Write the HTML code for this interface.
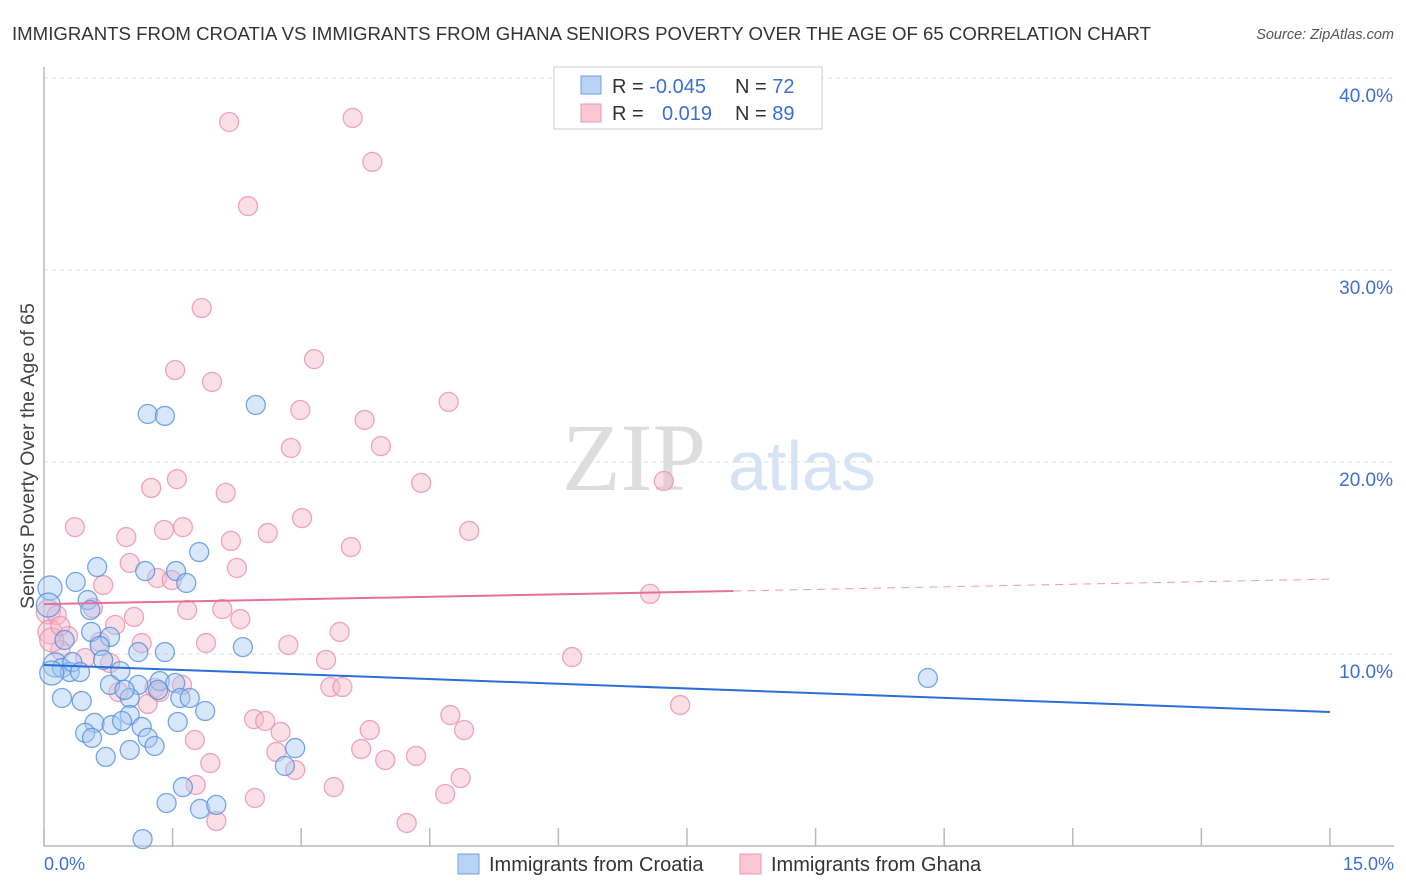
<!DOCTYPE html>
<html><head><meta charset="utf-8"><style>
body{margin:0;background:#fff;font-family:"Liberation Sans",sans-serif;}
svg{display:block}
</style></head><body>
<svg id="chart" width="1406" height="892">
<text x="12" y="40" font-size="18" fill="#333" textLength="1139" lengthAdjust="spacingAndGlyphs">IMMIGRANTS FROM CROATIA VS IMMIGRANTS FROM GHANA SENIORS POVERTY OVER THE AGE OF 65 CORRELATION CHART</text>
<text x="1394" y="39" font-size="14.5" fill="#555" font-style="italic" text-anchor="end">Source: ZipAtlas.com</text>
<g>
<text x="634" y="490" font-size="96" fill="#ddd" font-family="Liberation Serif,serif" text-anchor="middle">ZIP</text>
<text x="802" y="490" font-size="70" fill="#d5e3f5" text-anchor="middle">atlas</text>
</g>
<g id="grid"></g>
<g id="axes"></g>
<g id="points"></g>
<g id="trends"></g>
<text transform="translate(34,456) rotate(-90)" font-size="19.5" fill="#444" text-anchor="middle">Seniors Poverty Over the Age of 65</text>
<text x="44" y="870" font-size="18" fill="#3b6fd4">0.0%</text>
<text x="1394" y="870" font-size="18" fill="#3b6fd4" text-anchor="end">15.0%</text>
<g>
<rect x="554" y="67" width="268" height="62" fill="#fff" stroke="#ccc"/>
<rect x="581" y="76" width="20" height="18" fill="#b8d3f5" stroke="#6f9fe0"/>
<rect x="581" y="104" width="20" height="18" fill="#f9c6d4" stroke="#e89ab2"/>
<text x="612" y="93" font-size="20" fill="#333">R = <tspan fill="#3b6fd4">-0.045</tspan><tspan x="735">N = </tspan><tspan fill="#3b6fd4">72</tspan></text>
<text x="612" y="120" font-size="20" fill="#333">R = <tspan x="662" fill="#3b6fd4">0.019</tspan><tspan x="735">N = </tspan><tspan fill="#3b6fd4">89</tspan></text>
</g>
<g>
<rect x="458" y="854" width="21" height="20" fill="#b8d3f5" stroke="#6f9fe0"/>
<text x="489" y="871" font-size="20" fill="#333">Immigrants from Croatia</text>
<rect x="740" y="854" width="21" height="20" fill="#f9c6d4" stroke="#e89ab2"/>
<text x="771" y="871" font-size="20" fill="#333">Immigrants from Ghana</text>
</g>
</svg>
<script>
const yTicks=[10,20,30,40];
const yTickLabels=["10.0%","20.0%","30.0%","40.0%"];
const xTicks=[0,1.5,3,4.5,6,7.5,9,10.5,12,13.5,15];
const croatiaX=[1.21,1.41,2.47,1.81,0.62,1.18,1.54,1.66,0.37,0.07,0.51,0.54,0.05,0.55,0.77,0.65,2.32,1.10,1.41,0.13,0.21,0.30,0.33,0.42,0.09,0.89,0.77,1.10,1.35,1.53,1.59,1.00,0.21,0.44,1.88,1.00,0.59,0.79,0.91,1.14,1.56,0.48,0.56,1.21,1.00,1.29,0.72,2.93,2.81,1.62,1.43,1.82,2.01,1.15,10.31,0.24,0.69,0.94,1.33,1.70];
const croatiaY=[22.5,22.4,22.97,15.31,14.53,14.32,14.32,13.7,13.75,13.44,12.81,12.29,12.55,11.15,10.89,10.42,10.36,10.1,10.1,9.43,9.27,9.06,9.58,9.06,9.01,9.11,8.39,8.39,8.59,8.49,7.71,7.71,7.71,7.55,7.03,6.82,6.41,6.30,6.51,6.2,6.46,5.89,5.63,5.63,5.0,5.21,4.64,5.1,4.17,3.07,2.24,1.93,2.14,0.36,8.75,10.73,9.69,8.13,8.13,7.71];
const ghanaX=[2.16,3.60,3.83,2.38,1.84,3.15,1.53,1.96,2.99,3.74,4.72,3.93,2.88,1.25,1.55,2.12,4.40,7.23,0.36,3.01,4.96,1.62,1.40,2.61,2.18,0.96,3.58,1.00,2.25,1.32,1.49,0.69,0.05,0.15,0.57,1.67,2.08,1.05,7.07,2.29,0.83,3.45,0.28,0.65,1.89,2.85,1.14,0.19,0.48,0.77,3.29,6.16,1.29,1.61,3.34,3.48,1.35,0.87,1.21,7.42,2.45,2.58,2.76,4.74,3.80,4.90,1.76,2.71,3.70,3.98,4.34,1.94,2.93,4.86,1.77,3.38,4.68,2.46,2.01,4.23,0.07,0.09,0.19];
const ghanaY=[37.71,37.92,35.63,33.33,28.02,25.36,24.79,24.17,22.71,22.19,23.13,20.83,20.73,18.65,19.11,18.39,18.91,19.01,16.61,17.08,16.41,16.61,16.46,16.3,15.89,16.09,15.57,14.74,14.48,13.96,13.85,13.59,12.19,12.03,12.4,12.29,12.34,11.93,13.13,11.82,11.51,11.15,10.94,10.63,10.57,10.47,10.57,10.21,9.79,9.53,9.69,9.84,8.23,8.39,8.28,8.28,8.02,8.02,7.40,7.34,6.61,6.51,5.94,6.82,6.04,6.04,5.52,4.90,5.05,4.48,4.69,4.32,3.96,3.54,3.18,3.07,2.71,2.5,1.30,1.20,11.15,10.73,11.46];
const croatiaTrend=[9.43,6.98];
const ghanaTrend=[12.6,13.28,13.9];
const ghanaSolidEnd=8.04;

const X=v=>44+v*85.73, Y=v=>846-v*19.2;
const NS="http://www.w3.org/2000/svg";
function mk(tag,attrs,parent){const e=document.createElementNS(NS,tag);for(const k in attrs)e.setAttribute(k,attrs[k]);parent.appendChild(e);return e;}
const grid=document.getElementById('grid'),axes=document.getElementById('axes'),pts=document.getElementById('points'),tr=document.getElementById('trends');
yTicks.forEach((t,i)=>{
 const l=mk('line',{x1:44,x2:1394,y1:Y(t),y2:Y(t),stroke:'#ddd','stroke-dasharray':'4,4'},grid);
 
 
 const tx=mk('text',{x:1393,y:Y(t)+24,'font-size':19,fill:'#3b6fd4','text-anchor':'end'},axes);
 tx.textContent=yTickLabels[i];
 
 
});
const ax=mk('path',{d:'M44,67 V846 H1394',fill:'none',stroke:'#bbb','stroke-width':1.5},axes);


xTicks.forEach(t=>{
 const l=mk('line',{x1:X(t),x2:X(t),y1:828,y2:846,stroke:'#bbb','stroke-width':1.5},axes);
 
 
});
function dots(xs,ys,fill,stroke,name){
 xs.forEach((x,i)=>{
  const r=x<0.15?12:9.5;
  const c=mk('circle',{cx:X(x),cy:Y(ys[i]),r:r,fill:fill,'fill-opacity':0.45,stroke:stroke,'stroke-opacity':0.75,'stroke-width':1.3},pts);
  
  
 });
}
dots(ghanaX,ghanaY,'#f7b7ca','#e88aa8','ghana-point');
dots(croatiaX,croatiaY,'#a9c9f2','#4f8ae0','croatia-point');
let l=mk('line',{x1:X(0),y1:Y(croatiaTrend[0]),x2:X(15),y2:Y(croatiaTrend[1]),stroke:'#2a6fd6','stroke-width':2},tr);


l=mk('line',{x1:X(0),y1:Y(ghanaTrend[0]),x2:X(ghanaSolidEnd),y2:Y(ghanaTrend[1]),stroke:'#e6709a','stroke-width':2},tr);


l=mk('line',{x1:X(ghanaSolidEnd),y1:Y(ghanaTrend[1]),x2:X(15),y2:Y(ghanaTrend[2]),stroke:'#e6709a','stroke-width':1,'stroke-dasharray':'8,6','stroke-opacity':0.7},tr);


</script>
</body></html>
